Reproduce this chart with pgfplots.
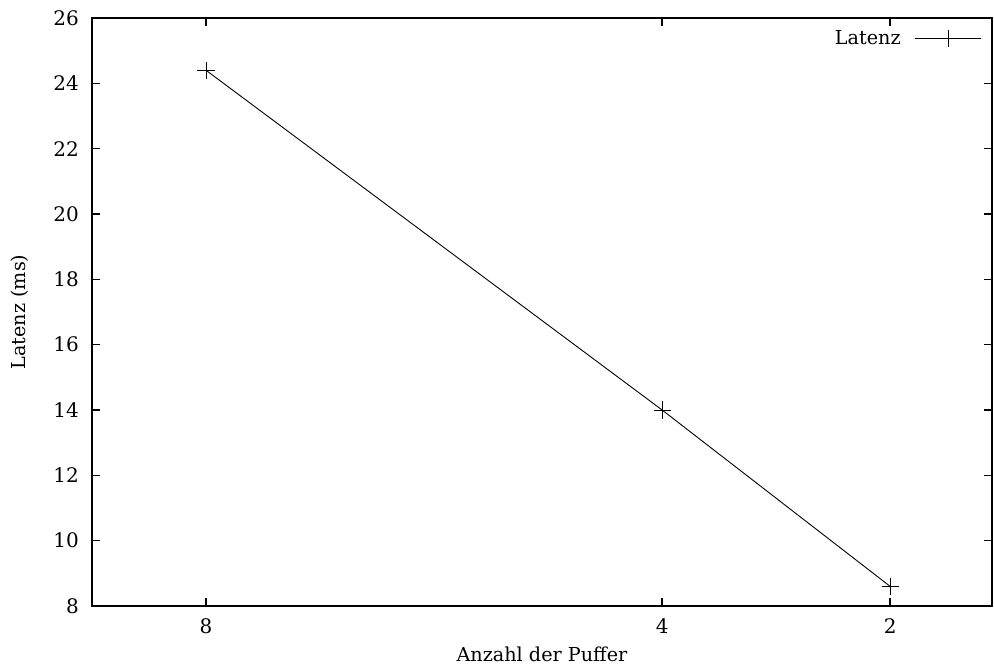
\documentclass[border=0pt]{standalone}
\usepackage{pgfplots}
\pgfplotsset{compat=1.18}
\usepackage{fontspec}
\setmainfont{DejaVu Serif}
\begin{document}
\fontsize{10pt}{12pt}\selectfont
\begin{tikzpicture}
\begin{axis}[
  scale only axis,
  width=450pt, height=294pt,
  x dir=reverse,
  xmin=1.107, xmax=9,
  ymin=8, ymax=26,
  xtick={8,4,2},
  ytick={8,10,...,26},
  tick align=inside,
  major tick length=4pt,
  axis line style={line width=0.7pt},
  every tick/.style={line width=0.7pt, black},
  /pgf/number format/assume math mode=true,
  ticklabel style={font=\fontsize{10pt}{12pt}\selectfont},
  xticklabel style={yshift=-3pt},
  yticklabel style={xshift=-3pt},
  xlabel={Anzahl der Puffer},
  ylabel={Latenz (ms)},
  label style={font=\fontsize{9.6pt}{11pt}\selectfont},
  xlabel style={at={(axis description cs:0.5,0)}, anchor=center, yshift=-24pt},
  ylabel style={at={(axis description cs:0,0.5)}, anchor=center, yshift=36pt},
  legend plot pos=right,
  legend style={draw=none, fill=none, at={(1,1)}, anchor=north east,
    xshift=-4pt, yshift=-3pt, column sep=5pt,
    font=\fontsize{9.6pt}{11pt}\selectfont, inner sep=1pt},
  legend image code/.code={
    \draw[#1,mark repeat=2,mark phase=2] plot coordinates {(0pt,0pt) (16.5pt,0pt) (33pt,0pt)};
  },
]
\addplot[black, line width=0.45pt, mark=+, mark size=4.3pt, mark options={line width=0.45pt}]
  coordinates {(8,24.4) (4,14.0) (2,8.6)};
\addlegendentry{Latenz}
\end{axis}
\pgfresetboundingbox
\path ([shift={(-46pt,-29pt)}]current axis.south west) rectangle ([shift={(1pt,9pt)}]current axis.north east);
\end{tikzpicture}
\end{document}
